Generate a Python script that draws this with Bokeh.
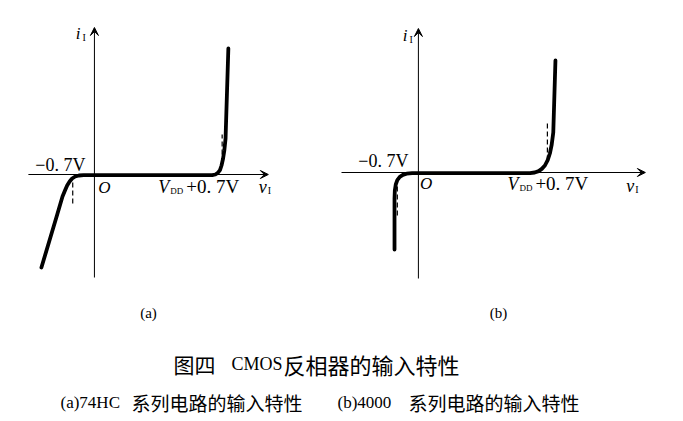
import numpy as np
from bokeh.plotting import figure
from bokeh.layouts import column, row
from bokeh.models import Range1d, Arrow, VeeHead
from bokeh.core.properties import value
from bokeh.embed import file_html
from bokeh.resources import INLINE

# (a) 74HC series: input voltage v_I vs input current i_I (schematic units)
va = [-1.71, -1.45, -1.2, -1.03, -0.95, -0.88, -0.8, -0.72, -0.62, -0.5, -0.35, 0.0,
      1.5, 3.8, 3.9, 3.98, 4.05, 4.1, 4.15, 4.19, 4.23, 4.32]
ia = [-4.65, -3.3, -2.0, -1.1, -0.8, -0.55, -0.35, -0.2, -0.1, -0.05, -0.03, -0.03,
      -0.03, -0.03, 0.0, 0.08, 0.22, 0.45, 0.8, 1.2, 1.8, 6.3]

# (b) 4000 series
vb = [-0.77, -0.77, -0.76, -0.73, -0.68, -0.6, -0.5, -0.38, -0.2, 0.0,
      1.5, 3.6, 3.75, 3.88, 3.98, 4.08, 4.17, 4.24, 4.3, 4.35, 4.42]
ib = [-3.85, -1.3, -0.9, -0.6, -0.38, -0.22, -0.12, -0.06, -0.03, -0.03,
      -0.03, -0.03, 0.0, 0.07, 0.18, 0.35, 0.62, 0.95, 1.4, 2.0, 5.6]

# dashed marker lines at -0.7 V and VDD + 0.7 V
dash_a_x = [-0.7, 4.12]
dash_a_y0 = [-0.4, 1.0]
dash_a_y1 = [-1.6, 2.0]
dash_b_x = [-0.68, 4.16]
dash_b_y0 = [-0.3, 0.6]
dash_b_y1 = [-2.25, 2.6]

SERIF = value("Liberation Serif")
CJK = value("Noto Sans CJK SC")


def panel(width, xr, yr, v, i, dx, dy0, dy1, xaxis, yaxis, labels):
    p = figure(width=width, height=300, x_range=Range1d(*xr), y_range=Range1d(*yr),
               output_backend="svg", toolbar_location=None, min_border=0)
    p.axis.visible = False
    p.grid.visible = False
    p.outline_line_color = None
    p.background_fill_color = "white"

    # coordinate axes with arrow heads
    p.add_layout(Arrow(x_start=xaxis[0], y_start=0, x_end=xaxis[1], y_end=0,
                       line_width=1, line_color="black",
                       end=VeeHead(size=8, line_color="black", fill_color="black")))
    p.add_layout(Arrow(x_start=0, y_start=yaxis[0], x_end=0, y_end=yaxis[1],
                       line_width=1, line_color="black",
                       end=VeeHead(size=8, line_color="black", fill_color="black")))

    # characteristic curve
    p.line(v, i, line_width=3.8, line_color="black", line_join="round", line_cap="round")

    # clamp-voltage markers
    p.segment(x0=dx, y0=dy0, x1=dx, y1=dy1, line_width=1.2, line_color="black",
              line_dash="5 3")

    # text labels
    lx = labels
    p.text(x=[lx["i"][0]], y=[lx["i"][1]], text=["i"], text_font=SERIF,
           text_font_style="italic", text_font_size="17px", text_align="right",
           text_baseline="middle")
    p.text(x=[lx["i"][0]], y=[lx["i"][1]], text=["I"], text_font=SERIF,
           text_font_size="10px", text_align="left", text_baseline="middle",
           x_offset=2, y_offset=4)
    p.text(x=[lx["neg"][0]], y=[lx["neg"][1]], text=["\u22120. 7V"], text_font=SERIF,
           text_font_size="18px", text_align="right", text_baseline="middle")
    p.text(x=[lx["O"][0]], y=[lx["O"][1]], text=["O"], text_font=SERIF,
           text_font_style="italic", text_font_size="17px", text_align="center",
           text_baseline="middle")
    p.text(x=[lx["vdd"][0]], y=[lx["vdd"][1]], text=["V"], text_font=SERIF,
           text_font_style="italic", text_font_size="18px", text_align="left",
           text_baseline="middle")
    p.text(x=[lx["vdd"][0]], y=[lx["vdd"][1]], text=["DD"], text_font=SERIF,
           text_font_size="9px", text_align="left", text_baseline="middle",
           x_offset=12, y_offset=4)
    p.text(x=[lx["vdd"][0]], y=[lx["vdd"][1]], text=["+0. 7V"], text_font=SERIF,
           text_font_size="19px", text_align="left", text_baseline="middle",
           x_offset=28)
    p.text(x=[lx["v"][0]], y=[lx["v"][1]], text=["v"], text_font=SERIF,
           text_font_style="italic", text_font_size="18px", text_align="left",
           text_baseline="middle")
    p.text(x=[lx["v"][0]], y=[lx["v"][1]], text=["I"], text_font=SERIF,
           text_font_size="10px", text_align="left", text_baseline="middle",
           x_offset=9, y_offset=4)
    return p


pa = panel(341, (-3.03, 7.97), (-6.3, 8.7), va, ia, dash_a_x, dash_a_y0, dash_a_y1,
           (-2.13, 5.61), (-5.15, 7.35),
           {"i": (-0.45, 7.05), "neg": (-0.29, 0.5), "O": (0.32, -0.65),
            "vdd": (2.06, -0.6), "v": (5.3, -0.6)})

pb = panel(342, (-2.48, 8.55), (-6.4, 8.6), vb, ib, dash_b_x, dash_b_y0, dash_b_y1,
           (-2.77, 7.32), (-5.3, 7.2),
           {"i": (-0.35, 6.85), "neg": (-0.32, 0.6), "O": (0.25, -0.55),
            "vdd": (2.87, -0.55), "v": (6.7, -0.65)})

# caption block
pc = figure(width=683, height=121, x_range=Range1d(0, 683), y_range=Range1d(121, 0),
            output_backend="svg", toolbar_location=None, min_border=0)
pc.axis.visible = False
pc.grid.visible = False
pc.outline_line_color = None

sub_labels = ["(a)", "(b)"]
sub_x = [148, 498]
pc.text(x=sub_x, y=[12, 12], text=sub_labels, text_font=SERIF, text_font_size="15px",
        text_align="center", text_baseline="middle")

# figure title: 图四  CMOS 反相器的输入特性 (parts share one baseline)
title_parts = ["图四", "CMOS", "反相器的输入特性"]
title_x = [173, 231, 283]
title_fonts = [CJK, SERIF, CJK]
title_sizes = ["21px", "18px", "22px"]
for t, x, f, s in zip(title_parts, title_x, title_fonts, title_sizes):
    pc.text(x=[x], y=[63], text=[t], text_font=f, text_font_size=s,
            text_align="left", text_baseline="alphabetic")

# sub-captions
cap_codes = ["(a)74HC", "(b)4000"]
cap_code_x = [60, 337]
cap_text = ["系列电路的输入特性", "系列电路的输入特性"]
cap_text_x = [131, 408]
pc.text(x=cap_code_x, y=[102, 102], text=cap_codes, text_font=SERIF, text_font_size="17px",
        text_align="left", text_baseline="alphabetic")
pc.text(x=cap_text_x, y=[102, 102], text=cap_text, text_font=CJK, text_font_size="19px",
        text_align="left", text_baseline="alphabetic")

layout = column(row(pa, pb), pc)
open("out.html", "w").write(file_html(layout, INLINE))
